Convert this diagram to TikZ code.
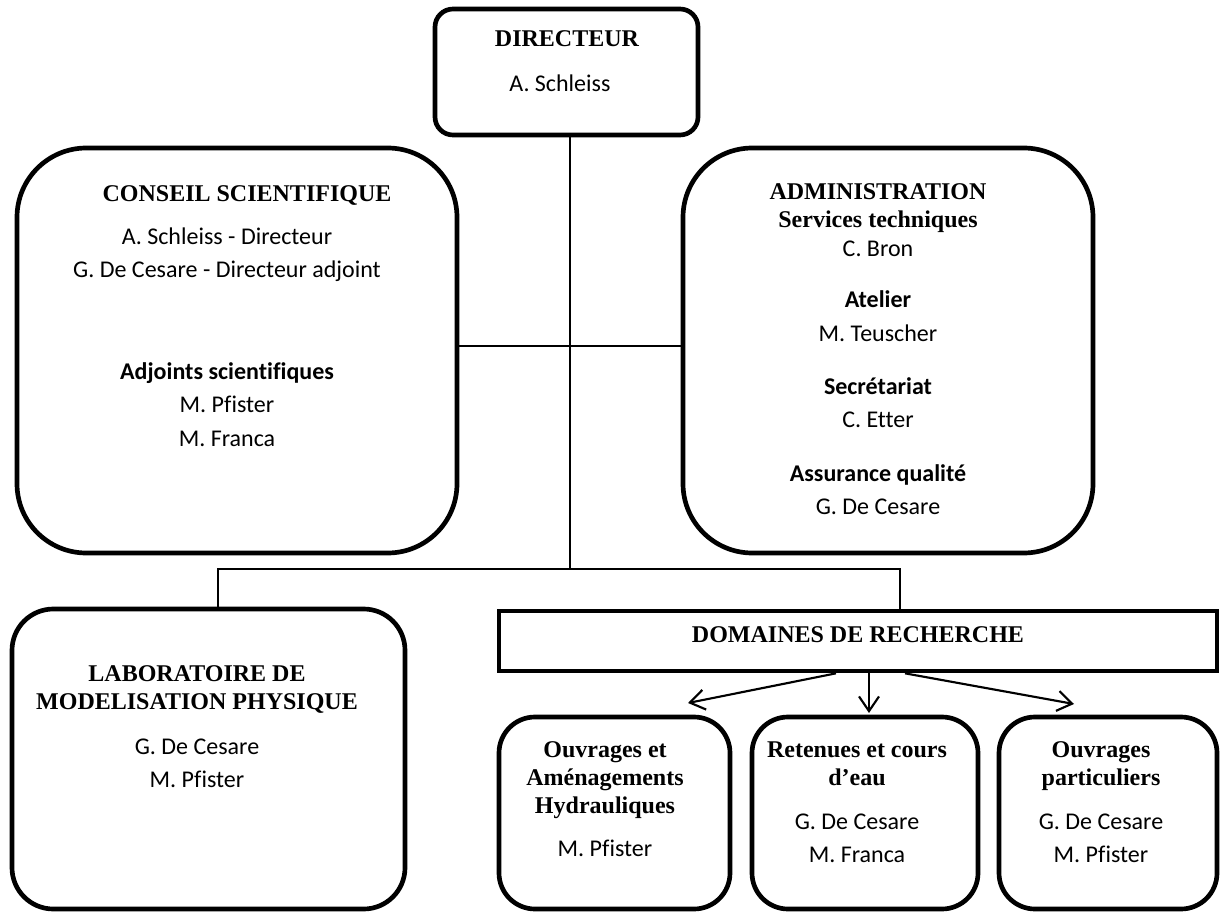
\documentclass[tikz,border=0pt]{standalone}
\usepackage{fontspec}
\setmainfont{Liberation Serif}
\newfontfamily\calibfont[Ligatures=NoCommon]{Carlito}
\usetikzlibrary{arrows.meta,fit}

\begin{document}
\begin{tikzpicture}[x=0.75pt,y=-0.75pt,
  box/.style={draw, line width=3.5pt, inner sep=0pt, rounded corners=#1},
  box/.default=0pt,
  ttl/.style={inner sep=0pt, text height=0.68em, text depth=0pt,
    font=\bfseries\fontsize{18}{20}\selectfont},
  nm/.style={inner sep=0pt, text height=0.68em, text depth=0pt,
    font=\calibfont\fontsize{18}{20}\selectfont},
  nmb/.style={nm, font=\calibfont\bfseries\fontsize{18}{20}\selectfont},
  link/.style={line width=1.2pt},
  branch/.style={line width=1.6pt, -{Straight Barb[length=11pt,width=15pt,line width=1.6pt]}}
]
\fill[white] (0,0) rectangle (1220,913);
\useasboundingbox (0,0) rectangle (1220,913);

% boxes
\node[box=13.5pt, fit={(435,9) (698,135)}] (dir) {};
\node[box=52pt, fit={(17,148) (457,553)}] (cons) {};
\node[box=52pt, fit={(683,148) (1093,553)}] (adm) {};
\node[box=31pt, fit={(12,609) (405,909)}] (lab) {};
\node[box, fit={(499,611) (1217,671)}] (dom) {};
\node[box=27pt, fit={(499,717) (730,909)}] (oah) {};
\node[box=27pt, fit={(752,717) (978,909)}] (rce) {};
\node[box=27pt, fit={(999,717) (1217,909)}] (opa) {};

% directeur
\node[ttl] (dirT) at (567,42) {DIRECTEUR};
\node[nm]  (dirN) at (560,87) {A. Schleiss};

% conseil scientifique
\node[ttl] (consT) at (247,197) {CONSEIL SCIENTIFIQUE};
\node[nm]  (consA) at (227,240) {A. Schleiss - Directeur};
\node[nm]  (consB) at (227,273) {G. De Cesare - Directeur adjoint};
\node[nmb] (consC) at (227,375) {Adjoints scientifiques};
\node[nm]  (consD) at (227,408) {M. Pfister};
\node[nm]  (consE) at (227,442) {M. Franca};

% administration
\node[ttl] (admT) at (878,195) {ADMINISTRATION};
\node[ttl] (admA) at (878,223) {Services techniques};
\node[nm]  (admB) at (878,252) {C. Bron};
\node[nmb] (admC) at (878,303) {Atelier};
\node[nm]  (admD) at (878,337) {M. Teuscher};
\node[nmb] (admE) at (878,390) {Secrétariat};
\node[nm]  (admF) at (878,423) {C. Etter};
\node[nmb] (admG) at (878,477) {Assurance qualité};
\node[nm]  (admH) at (878,510) {G. De Cesare};

% laboratoire
\node[ttl] (labT1) at (197,677) {LABORATOIRE DE};
\node[ttl] (labT2) at (197,705) {MODELISATION PHYSIQUE};
\node[nm]  (labA)  at (197,750) {G. De Cesare};
\node[nm]  (labB)  at (197,783) {M. Pfister};

% domaines de recherche
\node[ttl] (domT) at (858,638) {DOMAINES DE RECHERCHE};

\node[ttl] (oahT1) at (605,753) {Ouvrages et};
\node[ttl] (oahT2) at (605,781) {Aménagements};
\node[ttl] (oahT3) at (605,809) {Hydrauliques};
\node[nm]  (oahA)  at (605,852) {M. Pfister};

\node[ttl] (rceT1) at (857,753) {Retenues et cours};
\node[ttl] (rceT2) at (857,781) {d’eau};
\node[nm]  (rceA)  at (857,825) {G. De Cesare};
\node[nm]  (rceB)  at (857,858) {M. Franca};

\node[ttl] (opaT1) at (1101,753) {Ouvrages};
\node[ttl] (opaT2) at (1101,781) {particuliers};
\node[nm]  (opaA)  at (1101,825) {G. De Cesare};
\node[nm]  (opaB)  at (1101,858) {M. Pfister};

% connectors
\coordinate (mid) at (570,346);
\coordinate (j)   at (570,569);
\coordinate (jl)  at (218,569);
\coordinate (jr)  at (900,569);
\draw[link] (j |- dir.south) -- (j);
\draw[link] (cons.east |- mid) -- (adm.west |- mid);
\draw[link] (jl |- lab.north) -- (jl) -- (jr) -- (jr |- dom.north);

% arrows to the research areas
\coordinate (aL) at (688,703);
\coordinate (aM) at (869,713);
\coordinate (aR) at (1074,704);
\draw[branch] (dom.south -| 836,0) -- (aL);
\draw[branch] (dom.south -| aM) -- (aM);
\draw[branch] (dom.south -| 905,0) -- (aR);
\end{tikzpicture}
\end{document}
